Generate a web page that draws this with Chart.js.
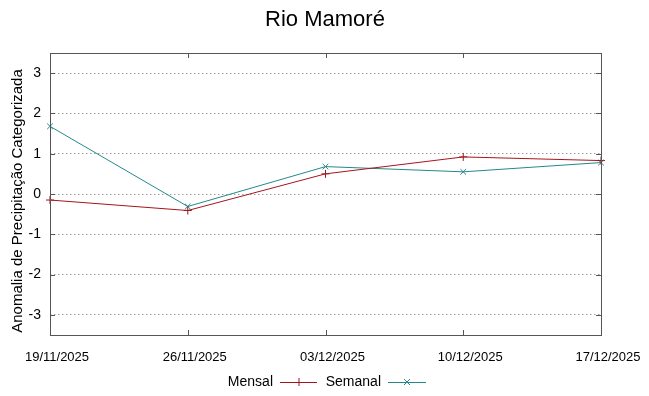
<!DOCTYPE html>
<html>
<head>
<meta charset="utf-8">
<script src="https://cdn.jsdelivr.net/npm/chart.js@4"></script>
<style>
  html, body { margin: 0; padding: 0; background: #fff; }
  #wrap { width: 649px; height: 396px; }
</style>
</head>
<body>
<div id="wrap"><canvas id="chart" width="649" height="396"></canvas></div>
<script>
/* --- Data ------------------------------------------------- */
const DATES = ['19/11/2025', '26/11/2025', '03/12/2025', '10/12/2025', '17/12/2025'];
const MENSAL = [-0.15, -0.41, 0.50, 0.92, 0.83];
const SEMANAL = [1.68, -0.31, 0.68, 0.55, 0.78];
const Y_TICKS = [-3, -2, -1, 0, 1, 2, 3];

const RED = '#a3161e';
const TEAL = '#23898b';
const BORDER = '#555555';
const FONT = '"Liberation Sans", Arial, sans-serif';

/* --- gnuplot-like frame, title, inward ticks and legend --- */
const framePlugin = {
  id: 'frame',
  afterDraw(chart) {
    const { ctx, chartArea: a, scales } = chart;
    ctx.save();
    ctx.strokeStyle = BORDER;
    ctx.lineWidth = 1;
    ctx.strokeRect(a.left + 0.5, a.top + 0.5, a.right - a.left, a.bottom - a.top);
    ctx.beginPath();
    for (const v of Y_TICKS) {
      const y = Math.round(scales.y.getPixelForValue(v)) + 0.5;
      ctx.moveTo(a.left, y); ctx.lineTo(a.left + 5, y);
      ctx.moveTo(a.right, y); ctx.lineTo(a.right - 5, y);
    }
    for (let i = 0; i < DATES.length; i++) {
      const x = Math.round(scales.x.getPixelForValue(i)) + 0.5;
      ctx.moveTo(x, a.bottom); ctx.lineTo(x, a.bottom - 5);
      ctx.moveTo(x, a.top); ctx.lineTo(x, a.top + 5);
    }
    ctx.stroke();

    // title
    ctx.fillStyle = '#000';
    ctx.textAlign = 'center';
    ctx.textBaseline = 'middle';
    ctx.font = '22px ' + FONT;
    ctx.fillText('Rio Mamoré', 325, 20);

    // y axis title
    ctx.save();
    ctx.translate(18, 201);
    ctx.rotate(-Math.PI / 2);
    ctx.font = '15px ' + FONT;
    ctx.fillText('Anomalia de Precipitação Categorizada', 0, 0);
    ctx.restore();

    // legend: text then line sample with marker
    ctx.font = '14px ' + FONT;
    const ly = 382;
    const items = [
      { label: 'Mensal', color: RED, marker: '+', textRight: 273, x0: 280, x1: 317 },
      { label: 'Semanal', color: TEAL, marker: 'x', textRight: 381, x0: 388, x1: 426 }
    ];
    for (const it of items) {
      ctx.textAlign = 'right';
      ctx.fillStyle = '#000';
      ctx.fillText(it.label, it.textRight, ly);
      ctx.strokeStyle = it.color;
      ctx.beginPath();
      ctx.moveTo(it.x0, ly + 0.5); ctx.lineTo(it.x1, ly + 0.5);
      const cx = (it.x0 + it.x1) / 2, r = 4;
      if (it.marker === '+') {
        ctx.moveTo(cx - r, ly + 0.5); ctx.lineTo(cx + r, ly + 0.5);
        ctx.moveTo(cx + 0.5, ly - r); ctx.lineTo(cx + 0.5, ly + r);
      } else {
        ctx.moveTo(cx - 3, ly - 3); ctx.lineTo(cx + 3, ly + 3);
        ctx.moveTo(cx - 3, ly + 3); ctx.lineTo(cx + 3, ly - 3);
      }
      ctx.stroke();
    }
    ctx.restore();
  }
};

new Chart(document.getElementById('chart'), {
  type: 'line',
  data: {
    labels: DATES,
    datasets: [
      {
        label: 'Mensal',
        data: MENSAL,
        borderColor: RED,
        backgroundColor: RED,
        borderWidth: 1,
        pointStyle: 'cross',
        pointRadius: 4,
        pointBorderWidth: 1,
        tension: 0,
        fill: false
      },
      {
        label: 'Semanal',
        data: SEMANAL,
        borderColor: TEAL,
        backgroundColor: TEAL,
        borderWidth: 1,
        pointStyle: 'crossRot',
        pointRadius: 4,
        pointBorderWidth: 1,
        tension: 0,
        fill: false
      }
    ]
  },
  options: {
    responsive: false,
    animation: false,
    layout: { padding: { left: 0, right: 48, top: 53, bottom: 0 } },
    plugins: {
      legend: { display: false },
      tooltip: { enabled: false },
      title: { display: false }
    },
    scales: {
      x: {
        type: 'category',
        offset: false,
        grid: { display: false, drawTicks: false },
        border: { display: false },
        ticks: {
          color: '#000',
          padding: 15,
          labelOffset: 7,
          maxRotation: 0,
          autoSkip: false,
          font: { family: '"Liberation Sans Narrow", ' + FONT, size: 13 }
        },
        afterFit: s => { s.height = 61; }
      },
      y: {
        min: -3.5,
        max: 3.5,
        afterBuildTicks: s => { s.ticks = Y_TICKS.map(v => ({ value: v })); },
        grid: {
          color: '#a0a0a0',
          lineWidth: 1,
          drawTicks: false
        },
        border: { display: false, dash: [1.5, 2.5] },
        ticks: {
          color: '#000',
          padding: 9,
          font: { family: FONT, size: 14 }
        },
        afterFit: s => { s.width = 50; }
      }
    }
  },
  plugins: [framePlugin]
});
</script>
</body>
</html>
